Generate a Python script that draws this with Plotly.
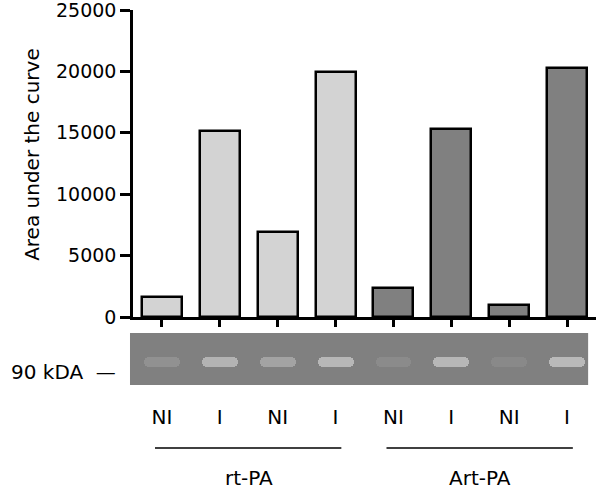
import plotly.graph_objects as go

# lanes / categories
lanes = ["NI", "I", "NI", "I", "NI", "I", "NI", "I"]
auc = [1600, 15150, 6900, 19950, 2400, 15300, 1000, 20300]
bar_colors = ["#d3d3d3"] * 4 + ["#808080"] * 4

# band brightness on the gel strip (0 = invisible, 1 = bright)
band_intensity = [0.18, 0.55, 0.38, 0.6, 0.12, 0.6, 0.1, 0.62]

groups = ["rt-PA", "Art-PA"]
group_lanes = [[0, 1, 2, 3], [4, 5, 6, 7]]

y_ticks = [0, 5000, 10000, 15000, 20000, 25000]
y_tick_text = [str(v) for v in y_ticks]

FONT = "DejaVu Sans"
x = list(range(len(lanes)))

fig = go.Figure()

fig.add_trace(go.Bar(
    x=x, y=auc, width=0.69,
    marker=dict(color=bar_colors, line=dict(color="black", width=2.5)),
    xaxis="x", yaxis="y", showlegend=False,
))

# gel bands
band_cols = ["rgba(220,220,220,%.2f)" % a for a in band_intensity]
fig.add_trace(go.Bar(
    x=x, y=[0.2] * len(x), base=[0.34] * len(x), width=0.62,
    marker=dict(color=band_cols, line=dict(width=0), cornerradius=5),
    xaxis="x2", yaxis="y2", showlegend=False,
))

fig.update_layout(
    width=600, height=491,
    margin=dict(l=133, r=4, t=10, b=0),
    paper_bgcolor="white", plot_bgcolor="white",
    font=dict(family=FONT, size=20, color="black"),
    bargap=0,
    xaxis=dict(
        domain=[0, 1], range=[-0.5, 7.5], anchor="y", automargin=False,
        tickvals=x, ticktext=[""] * len(x),
        ticks="outside", ticklen=7, tickwidth=2.5, tickcolor="black",
        showline=True, linecolor="black", linewidth=2.5,
        showgrid=False, zeroline=False,
    ),
    yaxis=dict(
        domain=[0.3617, 1], range=[0, 25000], anchor="x", automargin=False,
        tickvals=y_ticks, ticktext=y_tick_text, tickfont=dict(size=19),
        ticklabeloverflow="allow",
        ticks="outside", ticklen=10, tickwidth=2.5, tickcolor="black",
        showline=True, linecolor="black", linewidth=2.5,
        showgrid=False, zeroline=False,
    ),
    xaxis2=dict(
        domain=[0, 1], range=[-0.5, 7.5], anchor="y2", automargin=False,
        tickvals=x, ticktext=lanes, ticks="", ticklabelstandoff=18,
        showline=False, showgrid=False, zeroline=False,
    ),
    yaxis2=dict(
        domain=[0.2204, 0.3285], range=[0, 1], anchor="x2", automargin=False,
        showticklabels=False, showline=False, showgrid=False, zeroline=False,
    ),
)

# y title as rotated text
fig.add_annotation(text="Area under the curve", xref="paper", yref="paper",
                   x=-0.218, y=0.699, xanchor="center", yanchor="middle",
                   textangle=-90, showarrow=False, font=dict(size=20))

# gel background strip
fig.add_shape(type="rect", xref="paper", yref="y2 domain",
              x0=-0.0065, x1=0.983, y0=0, y1=1,
              fillcolor="#808080", line=dict(width=0), layer="below")

fig.add_annotation(text="90 kDA  —", xref="paper", yref="paper",
                   x=-0.033, y=0.247, xanchor="right", yanchor="middle",
                   showarrow=False, font=dict(size=20))

# group lines and labels
for name, idx in zip(groups, group_lanes):
    lo, hi = min(idx), max(idx)
    fig.add_shape(type="line", xref="x", yref="paper",
                  x0=lo - 0.12, x1=hi + 0.1, y0=0.0894, y1=0.0894,
                  line=dict(color="black", width=1.5))
    fig.add_annotation(text=name, xref="x", yref="paper",
                       x=(lo + hi) / 2, y=0.026, yanchor="middle",
                       showarrow=False, font=dict(size=20))

# drop the default page margin so the figure sits at the window's corner
fig.write_html("out.html", config={"displayModeBar": False},
               post_script="document.body.style.margin='0';")
